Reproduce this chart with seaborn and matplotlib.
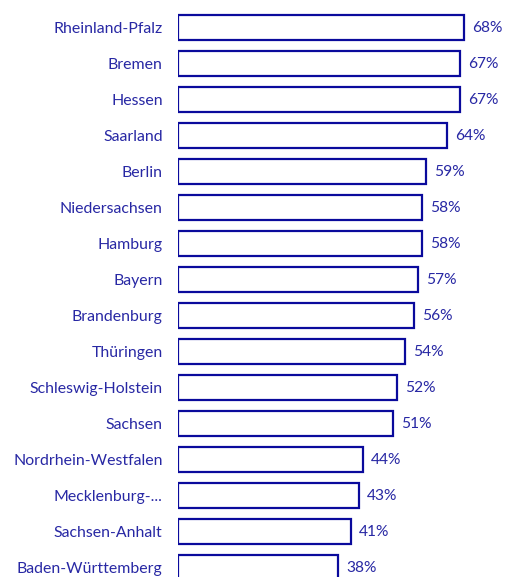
import matplotlib
matplotlib.use("Agg")
import matplotlib.pyplot as plt
import seaborn as sns
import pandas as pd

states = ["Rheinland-Pfalz", "Bremen", "Hessen", "Saarland", "Berlin",
          "Niedersachsen", "Hamburg", "Bayern", "Brandenburg", "Thüringen",
          "Schleswig-Holstein", "Sachsen", "Nordrhein-Westfalen",
          "Mecklenburg-...", "Sachsen-Anhalt", "Baden-Württemberg"]
values = [68, 67, 67, 64, 59, 58, 58, 57, 56, 54, 52, 51, 44, 43, 41, 38]

df = pd.DataFrame({"state": states, "value": values})

sns.set_theme(style="white")
plt.rcParams["font.family"] = ["Lato", "DejaVu Sans"]

W, H = 507, 577
fig = plt.figure(figsize=(W / 100, H / 100), dpi=100)
left_px = 178
ax = fig.add_axes([left_px / W, 0, (W - left_px) / W, 1])

edge = "#0a0a9c"
txt = "#2828a4"

sns.barplot(data=df, x="value", y="state", orient="h", color="white",
            edgecolor=edge, linewidth=1.6, width=0.69, ax=ax, saturation=1)

px_per = 4.21
ax.set_xlim(0, (W - left_px) / px_per)
pitch = 36.0
top = 27.5
ax.set_ylim((H - top) / pitch, -top / pitch)

for i, v in enumerate(values):
    ax.text(v + 8 / px_per, i, f"{v}%", va="center", ha="left",
            color=txt, fontsize=11.2)

ax.set_xlabel("")
ax.set_ylabel("")
ax.set_xticks([])
ax.tick_params(axis="y", length=0, pad=11, labelsize=11.4, labelcolor=txt)
for s in ax.spines.values():
    s.set_visible(False)

fig.savefig("out.png", dpi=100)
